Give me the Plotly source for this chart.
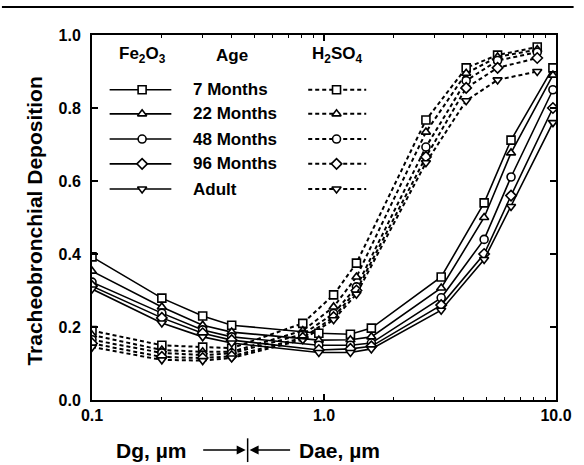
import plotly.graph_objects as go

# ---- data ----
ages = ["7 Months", "22 Months", "48 Months", "96 Months", "Adult"]
symbols = ["square", "triangle-up", "circle", "diamond", "triangle-down"]

fe_x = [0.1, 0.2, 0.3, 0.4, 0.95, 1.3, 1.6, 3.2, 4.9, 6.4, 9.7]
fe_7 = [0.392, 0.279, 0.230, 0.205, 0.183, 0.180, 0.197, 0.337, 0.540, 0.712, 0.910]
fe_22 = [0.353, 0.255, 0.205, 0.186, 0.164, 0.165, 0.173, 0.307, 0.500, 0.677, 0.890]
fe_48 = [0.323, 0.238, 0.192, 0.173, 0.150, 0.150, 0.156, 0.280, 0.440, 0.611, 0.850]
fe_96 = [0.312, 0.225, 0.183, 0.164, 0.137, 0.140, 0.147, 0.260, 0.400, 0.560, 0.800]
fe_ad = [0.304, 0.211, 0.173, 0.156, 0.130, 0.130, 0.140, 0.246, 0.385, 0.530, 0.760]

h2_x = [0.1, 0.2, 0.3, 0.4, 0.81, 1.1, 1.38, 2.75, 4.1, 5.6, 8.3]
h2_7 = [0.190, 0.150, 0.145, 0.142, 0.210, 0.288, 0.375, 0.767, 0.910, 0.945, 0.967]
h2_22 = [0.178, 0.137, 0.132, 0.132, 0.190, 0.255, 0.337, 0.734, 0.895, 0.940, 0.960]
h2_48 = [0.165, 0.129, 0.123, 0.128, 0.180, 0.237, 0.310, 0.693, 0.875, 0.930, 0.953]
h2_96 = [0.155, 0.118, 0.115, 0.120, 0.170, 0.227, 0.300, 0.666, 0.855, 0.910, 0.937]
h2_ad = [0.145, 0.110, 0.108, 0.115, 0.165, 0.220, 0.290, 0.650, 0.820, 0.877, 0.900]

fe_series = [fe_7, fe_22, fe_48, fe_96, fe_ad]
h2_series = [h2_7, h2_22, h2_48, h2_96, h2_ad]

y_ticks = [0.0, 0.2, 0.4, 0.6, 0.8, 1.0]
x_ticks = [0.1, 1.0, 10.0]
x_ticktext = ["0.1", "1.0", "10.0"]

FONT = "Liberation Sans, Arial, sans-serif"
DASH = "4px,3px"
MS = 8

fig = go.Figure()

for ys, sym in zip(h2_series, symbols):
    fig.add_trace(go.Scatter(
        x=h2_x, y=ys, mode="lines+markers",
        line=dict(color="black", width=2, dash=DASH),
        marker=dict(symbol=sym, size=MS, color="white",
                    line=dict(color="black", width=1.6)),
        showlegend=False))

for ys, sym in zip(fe_series, symbols):
    fig.add_trace(go.Scatter(
        x=fe_x, y=ys, mode="lines+markers",
        line=dict(color="black", width=1.6),
        marker=dict(symbol=sym, size=MS, color="white",
                    line=dict(color="black", width=1.6)),
        showlegend=False))

# ---- custom legend on an overlay axis (0..1 of the plot area) ----
row_y = [0.850, 0.784, 0.715, 0.647, 0.578]
fe_l, fe_m, fe_r = 0.038, 0.108, 0.171
h2_l, h2_m, h2_r = 0.466, 0.527, 0.591
for i, sym in enumerate(symbols):
    ry = row_y[i]
    fig.add_trace(go.Scatter(x=[fe_l, fe_r], y=[ry, ry], mode="lines",
                             line=dict(color="black", width=1.6),
                             xaxis="x2", yaxis="y2", showlegend=False, hoverinfo="skip"))
    fig.add_trace(go.Scatter(x=[h2_l, h2_r], y=[ry, ry], mode="lines",
                             line=dict(color="black", width=2, dash=DASH),
                             xaxis="x2", yaxis="y2", showlegend=False, hoverinfo="skip"))
    fig.add_trace(go.Scatter(x=[fe_m, h2_m], y=[ry, ry], mode="markers",
                             marker=dict(symbol=sym, size=MS, color="white",
                                         line=dict(color="black", width=1.6)),
                             xaxis="x2", yaxis="y2", showlegend=False, hoverinfo="skip"))

ann = []
lab_font = dict(family=FONT, size=17, color="black", weight="bold")
ann.append(dict(x=fe_m, y=0.945, xref="x2", yref="y2", text="Fe<sub>2</sub>O<sub>3</sub>",
                showarrow=False, font=lab_font, xanchor="center", yanchor="middle"))
ann.append(dict(x=0.302, y=0.945, xref="x2", yref="y2", text="Age",
                showarrow=False, font=lab_font, xanchor="center", yanchor="middle"))
ann.append(dict(x=h2_m, y=0.945, xref="x2", yref="y2", text="H<sub>2</sub>SO<sub>4</sub>",
                showarrow=False, font=lab_font, xanchor="center", yanchor="middle"))
for i, a in enumerate(ages):
    ann.append(dict(x=0.213, y=row_y[i], xref="x2", yref="y2", text=a,
                    showarrow=False, font=lab_font, xanchor="left", yanchor="middle"))

# axis titles
title_font = dict(family=FONT, size=21, color="black", weight="bold")
ann.append(dict(x=-0.124, y=0.49, xref="paper", yref="paper",
                text="Tracheobronchial Deposition", textangle=-90,
                showarrow=False, font=title_font, xanchor="center", yanchor="middle"))
ann.append(dict(x=(190 - 92) / 474, y=-0.137, xref="paper", yref="paper",
                text="Dg, µm", showarrow=False, font=title_font,
                xanchor="right", yanchor="middle"))
ann.append(dict(x=(301 - 92) / 474, y=-0.137, xref="paper", yref="paper",
                text="Dae, µm", showarrow=False, font=title_font,
                xanchor="left", yanchor="middle"))
ann.append(dict(x=(249 - 92) / 474, y=-0.137, xref="paper", yref="paper",
                text="", showarrow=True, ax=-44, ay=0, arrowhead=2, arrowsize=1.2,
                arrowwidth=1.5, arrowcolor="black"))
ann.append(dict(x=(253 - 92) / 474, y=-0.137, xref="paper", yref="paper",
                text="", showarrow=True, ax=42, ay=0, arrowhead=2, arrowsize=1.2,
                arrowwidth=1.5, arrowcolor="black"))

shapes = [
    dict(type="line", xref="paper", yref="paper",
         x0=(251 - 92) / 474, x1=(251 - 92) / 474, y0=-0.105, y1=-0.170,
         line=dict(color="black", width=1.5)),
    dict(type="line", xref="paper", yref="paper",
         x0=-92 / 474, x1=(584 - 92) / 474, y0=(400 - 7) / 365, y1=(400 - 7) / 365,
         line=dict(color="black", width=2)),
]

tick_font = dict(family=FONT, size=16, color="black", weight="bold")
minor_vals = [0.2, 0.3, 0.4, 0.5, 0.6, 0.7, 0.8, 0.9, 2, 3, 4, 5, 6, 7, 8, 9]

fig.update_layout(
    width=584, height=465,
    margin=dict(l=92, r=18, t=35, b=65),
    paper_bgcolor="white", plot_bgcolor="white",
    showlegend=False,
    xaxis=dict(type="log", range=[-1, 1], tickmode="array", tickvals=x_ticks,
               ticktext=x_ticktext, ticks="inside", ticklen=6, tickwidth=1.5,
               tickcolor="black", showline=True, linecolor="black", linewidth=2,
               mirror="allticks", showgrid=False, zeroline=False, tickfont=tick_font,
               minor=dict(tickmode="array", tickvals=minor_vals, ticks="inside",
                          ticklen=3, tickwidth=1, tickcolor="black", showgrid=False)),
    yaxis=dict(range=[0, 1], tickmode="array", tickvals=y_ticks, tickformat=".1f",
               ticks="inside", ticklen=6, tickwidth=1.5, tickcolor="black",
               showline=True, linecolor="black", linewidth=2, mirror="allticks",
               showgrid=False, zeroline=False, tickfont=tick_font, ticklabelstandoff=6),
    xaxis2=dict(range=[0, 1], overlaying="x", visible=False, fixedrange=True),
    yaxis2=dict(range=[0, 1], overlaying="y", visible=False, fixedrange=True),
    annotations=ann,
    shapes=shapes,
)

fig.write_html("out.html")
